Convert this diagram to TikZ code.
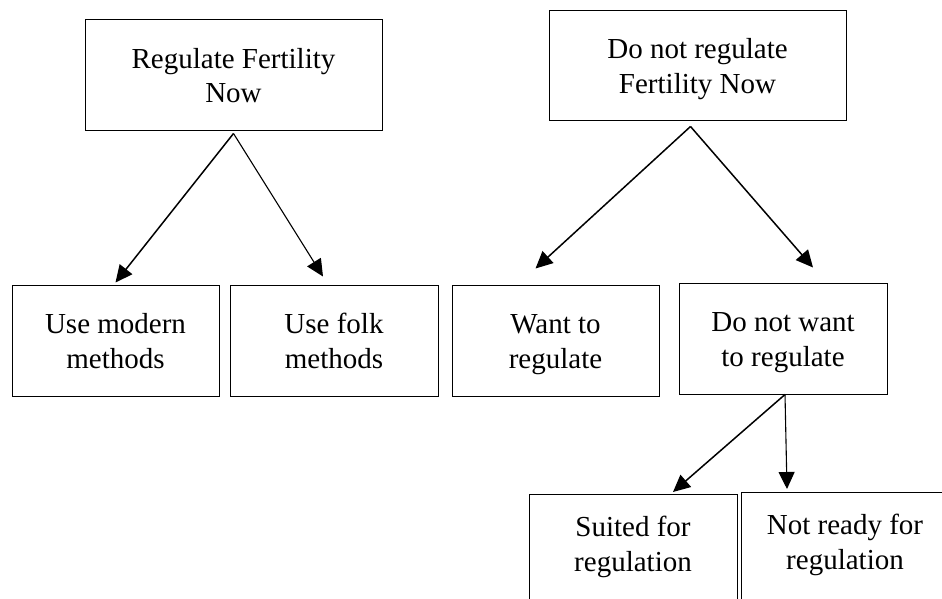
\documentclass[tikz,border=0pt]{standalone}
\usepackage{fontspec}
\setmainfont{Liberation Serif}
\usetikzlibrary{arrows.meta,calc}

% two-line label with fixed struts, so every box centres its lines alike
\newcommand{\twoline}[2]{\rule{0pt}{27pt}#1\\#2\rule[-7pt]{0pt}{7pt}}
% same, with a deep last line for the boxes that run past the bottom edge
\newcommand{\twolinedeep}[2]{\rule{0pt}{27pt}#1\\#2\rule[-40pt]{0pt}{40pt}}

\tikzset{
  box/.style={draw=black, line width=1pt, rectangle, align=center,
    inner sep=2pt, font=\fontsize{29}{35}\selectfont},
  openbox/.style={draw=black, line width=1pt, rectangle, align=center,
    inner xsep=2pt, inner ysep=15pt, anchor=north,
    minimum width=208pt, font=\fontsize{29}{35}\selectfont},
  link/.style={line width=1.5pt, -{Triangle[length=17pt,width=16pt]}},
  thinlink/.style={line width=1.1pt, -{Triangle[length=17pt,width=16pt]}}
}

\begin{document}
\begin{tikzpicture}[x=1pt, y=-1pt]
  \clip (0,0) rectangle (942,599);
  \fill[white] (0,0) rectangle (942,599);

  % upper level
  \node[box, minimum width=297pt, minimum height=111pt] (b1) at (233.5,75.5)
    {\twoline{Regulate Fertility}{Now}};
  \node[box, minimum width=297pt, minimum height=110pt] (b2) at (697.5,66)
    {\twoline{Do not regulate}{Fertility Now}};

  % middle level
  \node[box, minimum width=207pt, minimum height=111pt] (b3) at (115.5,340.5)
    {\twoline{Use modern}{methods}};
  \node[box, minimum width=208pt, minimum height=111pt] (b4) at (334,340.5)
    {\twoline{Use folk}{methods}};
  \node[box, minimum width=207pt, minimum height=111pt] (b5) at (555.5,340.5)
    {\twoline{Want to}{regulate}};
  \node[box, minimum width=208pt, minimum height=111pt] (b6) at (783,338.5)
    {\twoline{Do not want}{to regulate}};

  % lower level (runs past the bottom edge)
  \node[openbox] (b7) at (633,494) {\twolinedeep{Suited for}{regulation}};
  \node[openbox] (b8) at (845,492) {\twolinedeep{Not ready for}{regulation}};

  % connectors
  \draw[link] ($(b1.south)+(0,2)$) -- ($(b3.north)+(0,-2)$);
  \draw[thinlink] ($(b1.south)+(0,2)$) -- ($(b4.north)+(-11,-8)$);
  \draw[link] ($(b2.south)+(-7,5)$) -- ($(b5.north)+(-20,-16)$);
  \draw[link] ($(b2.south)+(-7,5)$) -- ($(b6.north)+(30,-15)$);
  \draw[link] ($(b6.south)+(2,0)$) -- ($(b7.north)+(40,-2)$);
  \draw[thinlink] ($(b6.south)+(2,0)$) -- ($(b8.north)+(-58,-3)$);
\end{tikzpicture}
\end{document}
